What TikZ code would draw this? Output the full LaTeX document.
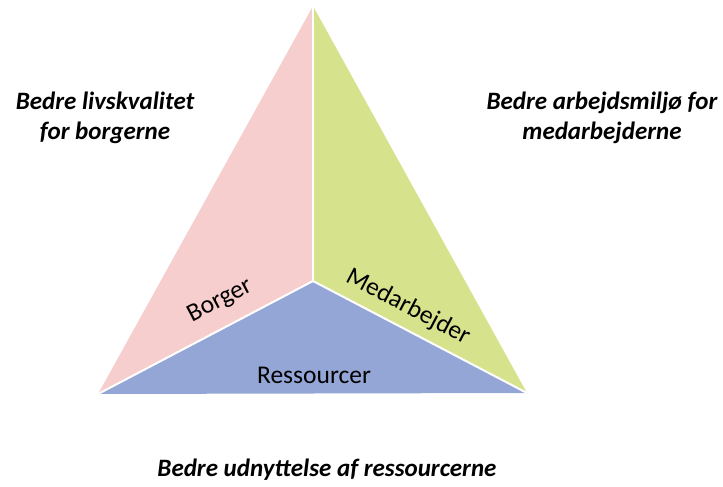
\documentclass[tikz,border=0pt]{standalone}
\usepackage{fontspec}
\setmainfont{Carlito}
\definecolor{pinkc}{RGB}{246,206,206}
\definecolor{greenc}{RGB}{214,226,140}
\definecolor{bluec}{RGB}{148,166,214}
\begin{document}
\begin{tikzpicture}[x=1pt,y=-1pt,
  goal/.style={font=\fontsize{25}{30}\selectfont\bfseries\itshape, align=center, inner sep=0pt, anchor=base},
  lab/.style={font=\fontsize{25.5}{30}\selectfont, inner sep=0pt},
  sep/.style={draw=white, line width=2pt}]
\useasboundingbox (0,0) rectangle (723,487);
\coordinate (T) at (313,6);
\coordinate (L) at (98,394);
\coordinate (R) at (527,393);
\coordinate (C) at (313,281);
\fill[pinkc] (T) -- (C) -- (L) -- cycle;
\fill[greenc] (T) -- (R) -- (C) -- cycle;
\fill[bluec] (L) -- (C) -- (R) -- cycle;
\draw[sep] (C) -- (T);
\draw[sep] (C) -- (L);
\draw[sep] (C) -- (R);
\node[lab, rotate=27.7] (borger) at (220,301) {Borger};
\node[lab, rotate=-27.6] (medarb) at (408,307) {Medarbejder};
\node[lab, anchor=base] (ress) at (314,383) {Ressourcer};
\node[goal] (g1) at (105,139) {Bedre livskvalitet\\for borgerne};
\node[goal] (g2) at (602,139) {Bedre arbejdsmiljø for\\medarbejderne};
\node[goal] (g3) at (327,476) {Bedre udnyttelse af ressourcerne};
\end{tikzpicture}
\end{document}
